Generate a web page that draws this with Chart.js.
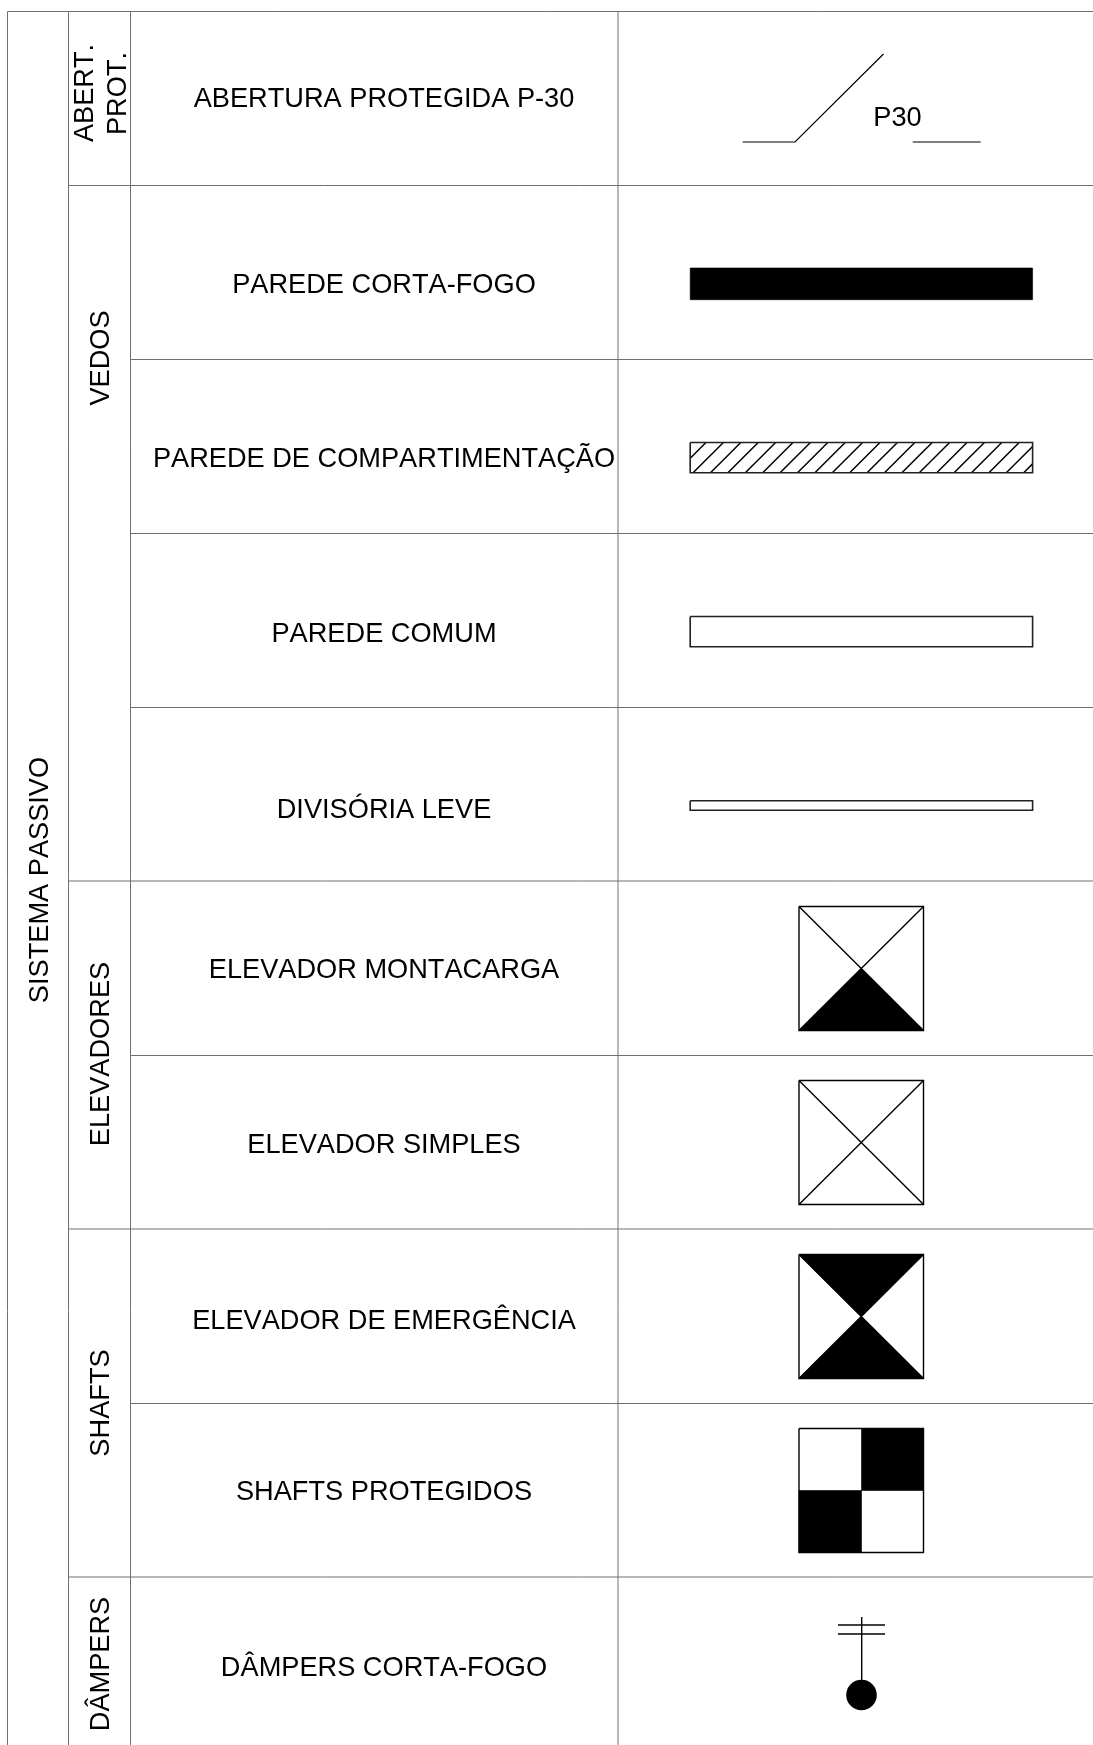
<!DOCTYPE html>
<html>
<head>
<meta charset="utf-8">
<script src="https://cdn.jsdelivr.net/npm/chart.js@4"></script>
<style>
    html, body { margin: 0; padding: 0; background: #fff; }
    canvas { display: block; }
</style>
</head>
<body>
<canvas id="myChart" width="1093" height="1745"></canvas>
<script>
// table text
const rowLabels = ['ABERTURA PROTEGIDA P-30', 'PAREDE CORTA-FOGO', 'PAREDE DE COMPARTIMENTAÇÃO', 'PAREDE COMUM', 'DIVISÓRIA LEVE',
    'ELEVADOR MONTACARGA', 'ELEVADOR SIMPLES', 'ELEVADOR DE EMERGÊNCIA', 'SHAFTS PROTEGIDOS', 'DÂMPERS CORTA-FOGO'];
const rowBaselines = [107, 293, 467, 642, 818, 978, 1153, 1329, 1500, 1676];
const groupLabels = ['SISTEMA PASSIVO', 'ABERT.', 'PROT.', 'VEDOS', 'ELEVADORES', 'SHAFTS', 'DÂMPERS'];
const groupBaselines = [48, 92.7, 126, 109, 109, 109, 109];
const groupCenters = [880, 93, 93.5, 358, 1054, 1403, 1664];

// table rules: [y, from x]
const ruleY = [11.5, 185.5, 359.5, 533.5, 707.5, 881, 1055.5, 1229, 1403.5, 1577];
const ruleFromX = [7.5, 68.5, 130.5, 130.5, 130.5, 68.5, 130.5, 68.5, 130.5, 68.5];
const columnX = [7.5, 68.5, 130.5, 618];

// symbols
const openingLeft = [[742.7, 142], [795, 142], [883.5, 54]];
const openingRight = [[912.7, 142], [980.7, 142]];
const barLeft = 690.2, barRight = 1032.6;
const solidBar = [268, 299.7];
const hatchBar = [442.5, 472.8];
const plainBar = [616.5, 646.8];
const thinBar = [800.7, 810.3];
const hatchTopX = [706, 723.4, 740.8, 758.2, 775.6, 793, 810.4, 827.8, 845.2, 862.6, 880, 897.4, 914.8, 932.2, 949.6, 967, 984.4, 1001.8, 1019.2, 1036.6, 1054];
const squareLeft = 799, squareRight = 923.5, squareMidX = 861.5;
const squareTops = [906.5, 1080.5, 1254.5, 1428.5];
const squareBottoms = [1030.5, 1204.5, 1378.5, 1552.5];
const damperStem = [[861.7, 1617], [861.7, 1680]];
const damperBars = [1625, 1634];
const damperBarX = [838, 885];
const damperBall = [861.5, 1695];

const xy = pts => pts.map(p => ({ x: p[0], y: p[1] }));
const datasets = [];

// long dash = solid line, but keeps chart.js off its fast path (that one rounds x)
const solid = [5000, 1];

function line(pts, width, color) {
    datasets.push({ type: 'scatter', data: xy(pts), showLine: true, borderColor: color || '#000', borderWidth: width || 1.2, borderDash: solid, pointRadius: 0, fill: false, tension: 0 });
}
function poly(pts) {
    datasets.push({ type: 'scatter', data: xy(pts.concat([pts[0]])), showLine: true, borderColor: '#000', borderWidth: 0.6, borderDash: solid, backgroundColor: '#000', pointRadius: 0, fill: 'shape', tension: 0 });
}
function box(x0, x1, y0, y1, width, color) {
    line([[x0, y0], [x1, y0], [x1, y1], [x0, y1], [x0, y0]], width, color);
}

// table rules
ruleY.forEach((y, i) => line([[ruleFromX[i], y], [1093, y]], 1, '#707070'));
columnX.forEach(x => line([[x, 11.5], [x, 1745]], 1, '#707070'));

// abertura
line(openingLeft);
line(openingRight);

// bars
poly([[barLeft, solidBar[0]], [barRight, solidBar[0]], [barRight, solidBar[1]], [barLeft, solidBar[1]]]);
box(barLeft, barRight, hatchBar[0], hatchBar[1], 1.6, '#222');
box(barLeft, barRight, plainBar[0], plainBar[1], 1.6, '#222');
box(barLeft, barRight, thinBar[0], thinBar[1], 1.6, '#222');
hatchTopX.forEach(x => {
    // stroke runs 30px down and to the left, cut at the bar ends
    const h = hatchBar[1] - hatchBar[0];
    const a = [x, hatchBar[0]], b = [x - h, hatchBar[1]];
    if (b[0] < barLeft) { b[1] = hatchBar[0] + (x - barLeft); b[0] = barLeft; }
    if (a[0] > barRight) { a[1] = hatchBar[0] + (x - barRight); a[0] = barRight; }
    line([a, b], 1.5);
});

// elevadores and shafts
squareTops.forEach((top, i) => {
    const bot = squareBottoms[i], midY = (top + bot) / 2;
    if (i === 0 || i === 2) poly([[squareLeft, bot], [squareRight, bot], [squareMidX, midY]]);
    if (i === 2) poly([[squareLeft, top], [squareRight, top], [squareMidX, midY]]);
    if (i < 3) {
        line([[squareLeft, top], [squareRight, bot]], 1.4);
        line([[squareRight, top], [squareLeft, bot]], 1.4);
    } else {
        poly([[squareMidX, top], [squareRight, top], [squareRight, midY], [squareMidX, midY]]);
        poly([[squareLeft, midY], [squareMidX, midY], [squareMidX, bot], [squareLeft, bot]]);
    }
    box(squareLeft, squareRight, top, bot, 1.4);
});

// damper
line(damperStem, 1.4);
damperBars.forEach(y => line([[damperBarX[0], y], [damperBarX[1], y]], 1.4));
datasets.push({ type: 'scatter', data: xy([damperBall]), pointRadius: 15.3, pointBackgroundColor: '#000', pointBorderWidth: 0 });

const textPlugin = {
    id: 'tableText',
    afterDatasetsDraw(chart) {
        const { ctx, scales } = chart;
        ctx.save();
        ctx.fillStyle = '#000';
        ctx.font = '27.2px "Liberation Sans"';
        ctx.fontKerning = 'none';
        ctx.textAlign = 'center';
        ctx.textBaseline = 'alphabetic';
        rowLabels.forEach((label, i) => {
            ctx.fillText(label, scales.x.getPixelForValue(384), scales.y.getPixelForValue(rowBaselines[i]));
        });
        ctx.fillText('P30', scales.x.getPixelForValue(897.5), scales.y.getPixelForValue(125.5));
        groupLabels.forEach((label, i) => {
            ctx.save();
            ctx.translate(scales.x.getPixelForValue(groupBaselines[i]), scales.y.getPixelForValue(groupCenters[i]));
            ctx.rotate(-Math.PI / 2);
            ctx.fillText(label, 0, 0);
            ctx.restore();
        });
        ctx.restore();
    }
};

const ctx = document.getElementById('myChart').getContext('2d');
new Chart(ctx, {
    type: 'scatter',
    data: { datasets: datasets },
    plugins: [textPlugin],
    options: {
        responsive: false,
        animation: false,
        layout: { padding: 0, autoPadding: false },
        scales: {
            x: { type: 'linear', display: false, min: 0, max: 1093 },
            y: { type: 'linear', display: false, min: 0, max: 1745, reverse: true }
        },
        plugins: {
            legend: { display: false },
            tooltip: { enabled: false }
        }
    }
});
</script>
</body>
</html>
